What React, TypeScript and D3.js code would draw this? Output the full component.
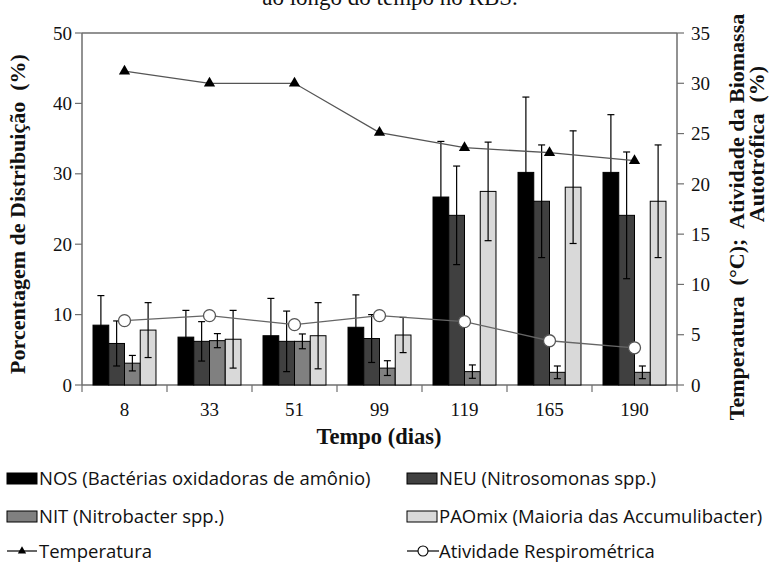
import React from "react";
import * as d3 from "d3";

const days = ["8", "33", "51", "99", "119", "165", "190"];
const seriesKeys = ["NOS", "NEU", "NIT", "PAO"];
const nosValues = [8.5, 6.8, 7.0, 8.2, 26.7, 30.2, 30.2];
const nosErrors = [4.2, 3.8, 5.3, 4.6, 7.9, 10.7, 8.2];
const neuValues = [5.9, 6.2, 6.2, 6.6, 24.1, 26.1, 24.1];
const neuErrors = [3.2, 2.8, 4.3, 3.4, 7.0, 8.0, 9.0];
const nitValues = [3.1, 6.3, 6.2, 2.4, 1.9, 1.8, 1.8];
const nitErrors = [1.1, 1.0, 1.05, 1.05, 0.95, 0.9, 0.9];
const paoValues = [7.8, 6.5, 7.0, 7.1, 27.5, 28.1, 26.1];
const paoErrors = [3.9, 4.1, 4.7, 2.5, 7.0, 8.0, 8.0];
const temperature = [31.2, 30.0, 30.0, 25.1, 23.6, 23.1, 22.3];
const activity = [6.4, 6.9, 6.0, 6.9, 6.3, 4.4, 3.7];
const leftTicks = [0, 10, 20, 30, 40, 50];
const rightTicks = [0, 5, 10, 15, 20, 25, 30, 35];
const legendLabels = [
  "NOS (Bactérias oxidadoras de amônio)",
  "NEU (Nitrosomonas spp.)",
  "NIT (Nitrobacter spp.)",
  "PAOmix (Maioria das Accumulibacter)",
  "Temperatura",
  "Atividade Respirométrica",
];

const seriesValues = [nosValues, neuValues, nitValues, paoValues];
const seriesErrors = [nosErrors, neuErrors, nitErrors, paoErrors];
const fills = ["#000000", "#404040", "#808080", "#d9d9d9"];

const SERIF = "'Liberation Serif', 'Times New Roman', serif";
const SANS = "'Open Sans', 'Noto Sans', sans-serif";

export default function App() {
  const L = 82, R = 677, T = 33, B = 385;
  const x0 = d3.scaleBand<string>().domain(days).range([L, R]).padding(0);
  const x1 = d3
    .scaleBand<string>()
    .domain(seriesKeys)
    .range([0, x0.bandwidth()])
    .paddingInner(0)
    .paddingOuter(0.7);
  const yL = d3.scaleLinear().domain([0, 50]).range([B, T]);
  const yR = d3.scaleLinear().domain([0, 35]).range([B, T]);
  const cx = (d: string) => (x0(d) as number) + x0.bandwidth() / 2;

  const tempLine = d3
    .line<number>()
    .x((_, i) => cx(days[i]))
    .y((v) => yR(v));
  const actLine = d3
    .line<number>()
    .x((_, i) => cx(days[i]))
    .y((v) => yR(v));

  const tri = d3.symbol().type(d3.symbolTriangle).size(55)();
  const axisColor = "#6e6e6e";

  const legendRows = [
    { x: 7, y: 478 },
    { x: 407, y: 478 },
    { x: 7, y: 516 },
    { x: 407, y: 516 },
    { x: 7, y: 551 },
    { x: 407, y: 551 },
  ];

  return (
    <svg
      width={771}
      height={562}
      style={{ position: "absolute", left: 0, top: 0, background: "#fff" }}
    >
      <rect x={0} y={0} width={771} height={562} fill="#fff" />
      <text
        x={390}
        y={5}
        textAnchor="middle"
        fontFamily={SERIF}
        fontSize={23}
        fill="#111"
      >
        ao longo do tempo no RBS.
      </text>

      {/* frame */}
      <line x1={L} x2={R} y1={T} y2={T} stroke={axisColor} strokeWidth={1.5} />
      <line x1={L} x2={R} y1={B} y2={B} stroke={axisColor} strokeWidth={1.5} />
      <line x1={L} x2={L} y1={T} y2={B} stroke={axisColor} strokeWidth={1.5} />
      <line x1={R} x2={R} y1={T} y2={B} stroke={axisColor} strokeWidth={1.5} />

      {/* left ticks */}
      {leftTicks.map((t) => (
        <g key={"l" + t}>
          <line x1={L - 7} x2={L} y1={yL(t)} y2={yL(t)} stroke={axisColor} strokeWidth={1.2} />
          <text
            x={L - 10}
            y={yL(t)}
            dy="0.35em"
            textAnchor="end"
            fontFamily={SERIF}
            fontSize={19}
            fill="#111"
          >
            {t}
          </text>
        </g>
      ))}
      {/* right ticks */}
      {rightTicks.map((t) => (
        <g key={"r" + t}>
          <line x1={R} x2={R + 7} y1={yR(t)} y2={yR(t)} stroke={axisColor} strokeWidth={1.2} />
          <text
            x={R + 14}
            y={yR(t)}
            dy="0.35em"
            textAnchor="start"
            fontFamily={SERIF}
            fontSize={19}
            fill="#111"
          >
            {t}
          </text>
        </g>
      ))}
      {/* bottom ticks */}
      {days.map((d, i) => (
        <g key={"b" + d}>
          <line
            x1={x0(d) as number}
            x2={x0(d) as number}
            y1={B}
            y2={B + 7}
            stroke={axisColor}
            strokeWidth={1.2}
          />
          {i === days.length - 1 && (
            <line x1={R} x2={R} y1={B} y2={B + 7} stroke={axisColor} strokeWidth={1.2} />
          )}
          <text
            x={cx(d)}
            y={416}
            textAnchor="middle"
            fontFamily={SERIF}
            fontSize={19}
            fill="#111"
          >
            {d}
          </text>
        </g>
      ))}

      {/* bars */}
      {days.map((d, i) => (
        <g key={"g" + d} transform={`translate(${x0(d)},0)`}>
          {seriesKeys.map((k, s) => {
            const v = seriesValues[s][i];
            const e = seriesErrors[s][i];
            const bx = x1(k) as number;
            const w = x1.bandwidth();
            const mx = bx + w / 2;
            return (
              <g key={k}>
                <rect
                  x={bx}
                  y={yL(v)}
                  width={w}
                  height={B - yL(v)}
                  fill={fills[s]}
                  stroke="#000"
                  strokeWidth={1}
                />
                <line x1={mx} x2={mx} y1={yL(v + e)} y2={yL(v - e)} stroke="#000" strokeWidth={1.2} />
                <line x1={mx - 3.5} x2={mx + 3.5} y1={yL(v + e)} y2={yL(v + e)} stroke="#000" strokeWidth={1.2} />
                <line x1={mx - 3.5} x2={mx + 3.5} y1={yL(v - e)} y2={yL(v - e)} stroke="#000" strokeWidth={1.2} />
              </g>
            );
          })}
        </g>
      ))}

      {/* lines */}
      <path d={tempLine(temperature) as string} fill="none" stroke="#555" strokeWidth={1.3} />
      {temperature.map((v, i) => (
        <path key={"t" + i} d={tri as string} transform={`translate(${cx(days[i])},${yR(v)})`} fill="#000" />
      ))}
      <path d={actLine(activity) as string} fill="none" stroke="#666" strokeWidth={1.3} />
      {activity.map((v, i) => (
        <circle key={"a" + i} cx={cx(days[i])} cy={yR(v)} r={6} fill="#fff" stroke="#555" strokeWidth={1.3} />
      ))}

      {/* axis titles */}
      <text
        x={379}
        y={444}
        textAnchor="middle"
        fontFamily={SERIF}
        fontWeight="bold"
        fontSize={22.5}
        fill="#111"
      >
        Tempo (dias)
      </text>
      <text
        transform="translate(25,214) rotate(-90)"
        textAnchor="middle"
        fontFamily={SERIF}
        fontWeight="bold"
        fontSize={22}
        fill="#111"
        style={{ whiteSpace: "pre" }}
      >
        {"Porcentagem de Distribuição  (%)"}
      </text>
      <text
        transform="translate(744,217) rotate(-90)"
        textAnchor="middle"
        fontFamily={SERIF}
        fontWeight="bold"
        fontSize={22}
        fill="#111"
        style={{ whiteSpace: "pre" }}
      >
        {"Temperatura  (°C);  Atividade da Biomassa"}
      </text>
      <text
        transform="translate(764,144) rotate(-90)"
        textAnchor="middle"
        fontFamily={SERIF}
        fontWeight="bold"
        fontSize={22}
        fill="#111"
        style={{ whiteSpace: "pre" }}
      >
        {"Autotrófica  (%)"}
      </text>

      {/* legend */}
      {legendLabels.map((lab, i) => {
        const p = legendRows[i];
        return (
          <g key={"lg" + i}>
            {i < 4 ? (
              <rect x={p.x} y={p.y - 5} width={30} height={11} fill={fills[i]} stroke="#000" strokeWidth={1} />
            ) : i === 4 ? (
              <g>
                <line x1={p.x} x2={p.x + 30} y1={p.y} y2={p.y} stroke="#000" strokeWidth={1.2} />
                <path d={d3.symbol().type(d3.symbolTriangle).size(30)() as string} transform={`translate(${p.x + 15},${p.y})`} fill="#000" />
              </g>
            ) : (
              <g>
                <line x1={p.x} x2={p.x + 32} y1={p.y} y2={p.y} stroke="#000" strokeWidth={1.2} />
                <circle cx={p.x + 16} cy={p.y} r={5} fill="#fff" stroke="#000" strokeWidth={1.1} />
              </g>
            )}
            <text
              x={p.x + 32}
              y={p.y}
              dy="0.36em"
              fontFamily={SANS}
              fontSize={18.5}
              fill="#111"
            >
              {lab}
            </text>
          </g>
        );
      })}
    </svg>
  );
}
